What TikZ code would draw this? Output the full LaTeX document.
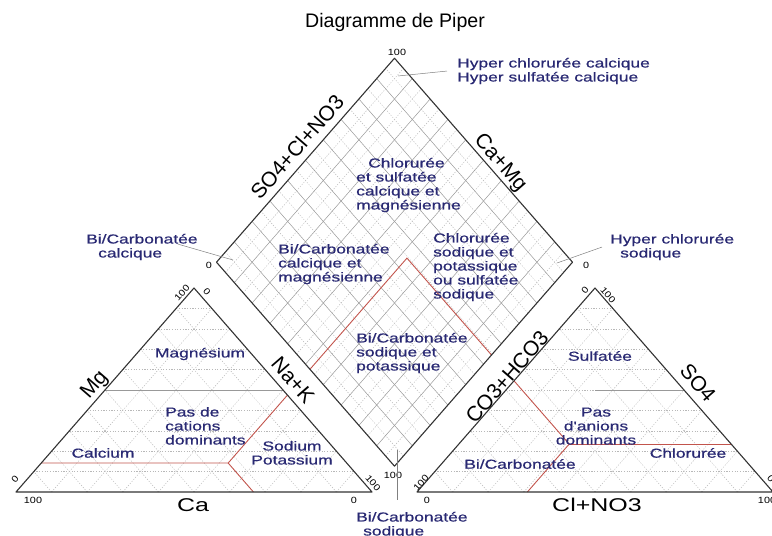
\documentclass[tikz,border=0pt]{standalone}
\usepackage{fontspec}
\setmainfont{Liberation Sans}
\newfontfamily\zonefont[FakeStretch=1.34,FakeBold=0.7]{Liberation Sans}
\newfontfamily\widefont[FakeStretch=1.35]{Liberation Sans}
\newfontfamily\smallfont[FakeStretch=1.2]{Liberation Sans}

\tikzset{
  zonelabel/.style={text=kNavy,font=\zonefont\fontsize{13}{14}\selectfont,inner sep=0pt},
  axislabel/.style={font=\fontsize{21}{21}\selectfont,inner sep=0pt},
  baselabel/.style={font=\widefont\fontsize{18.5}{18.5}\selectfont,inner sep=0pt},
  ticklabel/.style={font=\smallfont\fontsize{9}{9}\selectfont,inner sep=0pt},
  outline/.style={draw=kDark,line width=1.1pt,line join=round},
  gridsolid/.style={draw=kGrid,line width=0.5pt},
  griddot/.style={draw=kLight,line width=0.45pt,dash pattern=on 1.2pt off 1.5pt},
  zoneline/.style={draw=kRed,line width=0.9pt},
  leader/.style={draw=kLead,line width=0.5pt}
}

\begin{document}
\begin{tikzpicture}[x=1pt,y=1pt]
  \definecolor{kNavy}{rgb}{0.16,0.16,0.45}
  \definecolor{kDark}{rgb}{0.2,0.2,0.2}
  \definecolor{kGrid}{rgb}{0.6,0.6,0.6}
  \definecolor{kLight}{rgb}{0.72,0.72,0.72}
  \definecolor{kRed}{rgb}{0.76,0.33,0.3}
  \definecolor{kLead}{rgb}{0.5,0.5,0.5}

  \useasboundingbox (0,0) rectangle (772,536);
  \clip (0,0) rectangle (772,536);

  \node[font=\fontsize{19.6}{19.6}\selectfont] (title) at (395,514) {Diagramme de Piper};

  % cations
  \begin{scope}[shift={(16pt,44pt)},x=356pt,y=204pt]
    \foreach \i in {1,...,9}
    {
      \draw[griddot] (\i/20,\i/10) -- (1-\i/20,\i/10);
      \draw[griddot] (\i/10,0) -- (0.5+\i/20,1-\i/10);
      \draw[griddot] (\i/10,0) -- (\i/20,\i/10);
    }
    \draw[gridsolid] (0.25,0.5) -- (0.75,0.5);
    \draw[zoneline] (0.071,0.142) -- (0.596,0.142) -- (0.667,0);
    \draw[zoneline] (0.596,0.142) -- (0.7625,0.475);
    \draw[outline] (0,0) -- (1,0) -- (0.5,1) -- cycle;
  \end{scope}

  % anions
  \begin{scope}[shift={(417pt,44pt)},x=356pt,y=204pt]
    \foreach \i in {1,...,9}
    {
      \draw[griddot] (\i/20,\i/10) -- (1-\i/20,\i/10);
      \draw[griddot] (\i/10,0) -- (0.5+\i/20,1-\i/10);
      \draw[griddot] (\i/10,0) -- (\i/20,\i/10);
    }
    \draw[gridsolid] (0.5,0.5) -- (0.75,0.5);
    \draw[zoneline] (0.2725,0.545) -- (0.4275,0.235) -- (0.31,0);
    \draw[zoneline] (0.4275,0.235) -- (0.8825,0.235);
    \draw[outline] (0,0) -- (1,0) -- (0.5,1) -- cycle;
  \end{scope}

  % losange
  \begin{scope}[shift={(394.5pt,69.8pt)},x={(-178pt,204pt)},y={(178pt,204pt)}]
    \foreach \i in {1,3,...,19}
    {
      \draw[griddot] (\i/20,0) -- (\i/20,1);
      \draw[griddot] (0,\i/20) -- (1,\i/20);
    }
    \foreach \i in {1,...,9}
    {
      \draw[gridsolid] (\i/10,0) -- (\i/10,1);
      \draw[gridsolid] (0,\i/10) -- (1,\i/10);
    }
    \draw[zoneline] (0.475,0) -- (0.475,0.545) -- (0,0.545);
    \draw[outline] (0,0) -- (1,0) -- (1,1) -- (0,1) -- cycle;
  \end{scope}

  \foreach \x/\y/\r/\s [count=\n] in {33/36/0/100, 354/36/0/0, 15/57/49/0, 182/243/49/100,
                                      207/244/-49/0, 373/53/-49/100, 427/36/0/0, 421/53/49/100,
                                      585/246/49/0, 608/241/-49/100, 767/36/0/100, 771/57/-49/0,
                                      397/484/0/100, 209/271/0/0, 586/271/0/0, 393/61/0/100}
  {
    \node[ticklabel,rotate=\r] (tick\n) at (\x,\y) {\s};
  }

  \node[axislabel,rotate=49] (mg) at (95,151) {Mg};
  \node[axislabel,rotate=-49] (nak) at (293,156) {Na+K};
  \node[baselabel] (ca) at (193,31) {Ca};
  \node[axislabel,rotate=49] (socl) at (297,389) {SO4+Cl+NO3};
  \node[axislabel,rotate=-49] (camg) at (500,373) {Ca+Mg};
  \node[axislabel,rotate=49] (co3) at (507,159) {CO3+HCO3};
  \node[axislabel,rotate=-49] (so4) at (698,153) {SO4};
  \node[baselabel] (clno) at (597,31) {Cl+NO3};

  % base = baseline of the last line
  \node[zonelabel,anchor=base west,align=left] (hcc) at (457,454.5) {Hyper chlorurée calcique\\Hyper sulfatée calcique};
  \node[zonelabel,anchor=base west,align=left] (csc) at (356,326.5) {\hspace*{12pt}Chlorurée\\et sulfatée\\calcique et\\magnésienne};
  \node[zonelabel,anchor=base west,align=left] (bcm) at (278,254.5) {Bi/Carbonatée\\calcique et\\magnésienne};
  \node[zonelabel,anchor=base west,align=left] (csp) at (433,237.5) {Chlorurée\\sodique et\\potassique\\ou sulfatée\\sodique};
  \node[zonelabel,anchor=base west,align=left] (bsp) at (356,165.5) {Bi/Carbonatée\\sodique et\\potassique};
  \node[zonelabel,anchor=base west,align=left] (bcc) at (86,278.5) {Bi/Carbonatée\\\hspace*{12pt}calcique};
  \node[zonelabel,anchor=base west,align=left] (hcs) at (610,278.5) {Hyper chlorurée\\\hspace*{10pt}sodique};
  \node[zonelabel,anchor=base west,align=left] (bcs) at (356,0.5) {Bi/Carbonatée\\\hspace*{7pt}sodique};

  \node[zonelabel] (magn) at (200,182) {Magnésium};
  \node[zonelabel,anchor=base west,align=left] (pcd) at (165,91.5) {Pas de\\cations\\dominants};
  \node[zonelabel] (calc) at (103,83) {Calcium};
  \node[zonelabel,anchor=base,align=center] (sodp) at (292,71.5) {Sodium\\Potassium};
  \node[zonelabel] (sulf) at (600,180) {Sulfatée};
  \node[zonelabel,anchor=base,align=center] (pad) at (596,91.5) {Pas\\d'anions\\dominants};
  \node[zonelabel] (chlo) at (688,83) {Chlorurée};
  \node[zonelabel] (bica) at (520,72) {Bi/Carbonatée};

  \coordinate (hcctip) at (398,460);
  \coordinate (bcctip) at (233,276);
  \coordinate (hcstip) at (557,273);
  \coordinate (bcstip) at (397,86);
  \draw[leader] ([xshift=-10pt]hcc.west) -- (hcctip);
  \draw[leader] ([xshift=-20pt,yshift=3pt]bcc.east) -- (bcctip);
  \draw[leader] ([xshift=-8pt]hcs.west) -- (hcstip);
  \draw[leader,shorten >=12pt] (bcstip) -- (bcstip |- bcs.north);
\end{tikzpicture}
\end{document}
